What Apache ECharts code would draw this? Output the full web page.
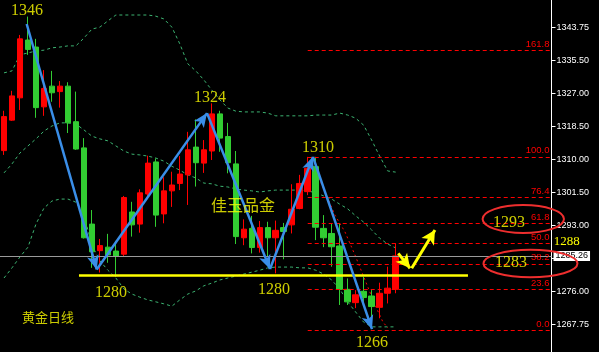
<!DOCTYPE html>
<html><head><meta charset="utf-8">
<script src="https://cdn.jsdelivr.net/npm/echarts@6/dist/echarts.min.js"></script>
<style>html,body{margin:0;padding:0;background:#000;}#c{width:599px;height:352px;}</style>
</head><body><div id="c"></div>
<script>
// ---- data ----
const slotCount = 69;
const categories = Array.from({length: slotCount}, (_, i) => String(i + 1));
const opens  = [1312.2,1320.0,1325.7,1340.5,1338.7,1323.4,1328.7,1327.3,1328.7,1319.6,1312.9,1293.4,1286.6,1287.5,1286.5,1285.7,1296.5,1293.4,1301.1,1309.3,1296.0,1301.9,1303.8,1306.0,1313.1,1309.0,1312.1,1321.6,1315.8,1308.8,1289.9,1292.3,1287.4,1292.5,1289.9,1292.5,1293.2,1297.4,1301.7,1308.1,1292.3,1291.0,1287.8,1276.7,1273.3,1276.2,1275.0,1272.1,1275.7,1276.7];
const closes = [1320.9,1326.2,1340.8,1338.1,1323.2,1328.1,1327.0,1328.7,1319.3,1312.6,1289.9,1286.3,1287.9,1285.5,1285.1,1300.2,1293.2,1301.4,1309.0,1295.7,1301.9,1303.4,1306.2,1312.4,1309.1,1312.4,1321.6,1315.4,1309.1,1290.2,1292.1,1287.4,1292.5,1289.9,1291.8,1291.5,1297.2,1303.8,1307.7,1292.6,1289.9,1287.6,1276.7,1273.5,1275.3,1274.6,1272.3,1275.7,1277.0,1285.26];
const lows   = [1311.1,1319.8,1322.6,1336.7,1320.6,1321.1,1324.7,1323.2,1316.7,1312.4,1289.7,1282.2,1281.0,1283.5,1279.9,1285.1,1290.2,1291.2,1300.4,1292.7,1293.6,1297.8,1302.1,1298.3,1303.0,1306.5,1309.8,1311.9,1306.4,1288.3,1288.0,1285.9,1286.1,1285.2,1280.8,1284.4,1291.0,1297.2,1300.8,1289.3,1287.5,1282.5,1272.7,1272.7,1271.9,1273.1,1267.1,1269.3,1273.1,1275.7];
const highs  = [1322.4,1327.5,1341.8,1346.5,1340.8,1332.8,1332.6,1330.0,1329.7,1327.3,1315.4,1297.0,1289.6,1290.9,1289.1,1300.6,1299.1,1302.3,1310.9,1310.2,1305.4,1306.8,1310.8,1317.0,1320.2,1314.9,1324.3,1322.4,1319.3,1312.1,1294.6,1295.5,1294.2,1294.0,1294.3,1293.7,1303.6,1306.0,1310.6,1310.6,1295.7,1293.6,1293.6,1279.5,1276.5,1279.9,1276.5,1278.4,1282.5,1288.5];
const bandUpper  = [1332.1,1332.6,1336.7,1337.2,1337.7,1337.9,1338.5,1338.7,1339.0,1339.0,1341.0,1343.3,1343.8,1345.4,1346.9,1346.9,1346.9,1346.9,1346.9,1346.6,1345.9,1343.8,1339.5,1334.4,1332.6,1330.3,1327.7,1325.2,1323.1,1322.3,1322.1,1322.1,1322.1,1321.8,1321.1,1321.1,1321.1,1321.1,1321.1,1321.3,1321.3,1321.3,1321.8,1321.3,1320.5,1318.7,1314.9,1310.8,1307.0,1306.7];
const bandMiddle = [1306.5,1308.8,1311.6,1313.4,1315.2,1317.2,1318.5,1319.3,1319.3,1319.0,1317.5,1315.9,1315.2,1314.7,1313.4,1312.1,1311.3,1311.1,1310.8,1310.3,1309.5,1308.2,1307.2,1306.0,1305.2,1303.9,1303.7,1303.1,1302.9,1302.4,1302.1,1301.9,1301.6,1301.9,1302.1,1302.1,1302.1,1302.1,1301.9,1301.4,1300.6,1299.8,1298.5,1297.3,1295.5,1293.9,1291.9,1289.8,1288.3,1287.3];
const bandLower  = [1279.6,1282.2,1285.0,1287.5,1293.4,1297.5,1299.3,1299.8,1299.8,1299.0,1295.7,1288.0,1284.0,1281.6,1279.6,1276.8,1275.5,1274.7,1274.0,1273.5,1273.0,1272.4,1274.0,1275.5,1276.3,1277.6,1278.3,1279.1,1279.6,1280.1,1280.6,1281.1,1281.6,1282.2,1282.4,1282.4,1282.4,1282.2,1282.2,1281.6,1280.6,1279.1,1276.8,1273.5,1270.9,1268.3,1267.1,1267.1,1267.1,1267.1];

const yMin = 1260.67, yMax = 1350.74;
const yTickValues = [1267.75,1276.194,1284.639,1293.083,1301.528,1309.972,1318.417,1326.861,1335.306,1343.75];
const yTickLabels = ['1267.75','1276.00','','1293.00','1301.50','1310.00','1318.50','1327.00','1335.50','1343.75'];
const lastPrice = 1285.26;

const fibLow = 1266.3, fibHigh = 1310.6, fibStartX = 38;
const fibLevels = [0.0, 23.6, 38.2, 50.0, 61.8, 76.4, 100.0, 161.8];

const zigzagX = [2.84, 11.60, 25.40, 33.28, 38.66, 46.04];
const zigzagP = [1344.6, 1281.8, 1321.8, 1281.9, 1310.6, 1266.5];
const yellowArrowX = [49.33, 50.80, 51.01, 53.92];
const yellowArrowP = [1285.9, 1282.1, 1282.1, 1291.9];
const supportX = [9.38, 58.05], supportP = 1280.4;
const redCurveX = [38.28,39.79,41.41,42.66,43.91,45.17,46.42,47.42,48.04];
const redCurveP = [1309.8,1303.4,1295.7,1291.4,1285.5,1279.1,1272.7,1268.3,1266.8];

const noteTexts = ['1346','1324','1310','1280','1280','1266','1293','1283'];
const noteX     = [2.88, 25.77, 39.28, 13.39, 33.78, 46.04, 63.18, 63.43];
const noteP     = [1348.0, 1325.8, 1313.0, 1275.7, 1276.5, 1262.97, 1293.75, 1283.5];
const cjkTexts = ['佳玉品金','黄金日线'];
const cjkX = [29.9, 5.5], cjkP = [1298.3, 1269.6], cjkSize = [16, 13];
const ellipseX = [64.97, 65.87], ellipseP = [1294.7, 1283.3], ellipseRx = [40.7, 47], ellipseRy = [14, 13.7];
const sideNote = '1288', sideNoteX = 70.4, sideNoteP = 1289.0;

// ---- chart ----
const chart = echarts.init(document.getElementById('c'), null, {renderer: 'canvas'});
const candleData = opens.map((o, i) => [o, closes[i], lows[i], highs[i]]);
const bandStyle = {color: '#3cb371', width: 1, type: [3, 3]};
const mkBand = d => ({type: 'line', data: d, symbol: 'none', lineStyle: bandStyle, z: 1, silent: true});

const fibLines = fibLevels.map(l => {
  const p = fibLow + (fibHigh - fibLow) * l / 100;
  return [{coord: [fibStartX, p], label: {formatter: l.toFixed(1)}}, {coord: [slotCount - 0.5, p]}];
});
const zigzag = [];
for (let i = 0; i < zigzagX.length - 1; i++) {
  zigzag.push([{coord: [zigzagX[i], zigzagP[i]], symbol: 'none'},
               {coord: [zigzagX[i + 1], zigzagP[i + 1]], symbol: 'arrow', symbolSize: [9, 14]}]);
}
const yArrows = [
  [{coord: [yellowArrowX[0], yellowArrowP[0]], symbol: 'none'}, {coord: [yellowArrowX[1], yellowArrowP[1]], symbol: 'arrow', symbolSize: [11, 14]}],
  [{coord: [yellowArrowX[2], yellowArrowP[2]], symbol: 'none'}, {coord: [yellowArrowX[3], yellowArrowP[3]], symbol: 'arrow', symbolSize: [11, 14]}]
];

const notes = noteTexts.map((t, i) => ({name: t, value: [noteX[i], noteP[i]],
  label: {fontFamily: 'Liberation Serif', fontSize: 16}}))
  .concat(cjkTexts.map((t, i) => ({name: t, value: [cjkX[i], cjkP[i]],
  label: {fontFamily: 'Noto Sans CJK SC', fontSize: cjkSize[i]}})));

chart.setOption({
  backgroundColor: '#000',
  animation: false,
  grid: {left: 0, right: 47.5, top: 0, bottom: 0},
  xAxis: [
    {type: 'category', data: categories, boundaryGap: true, show: false},
    {type: 'value', min: -0.5, max: slotCount - 0.5, show: false}
  ],
  yAxis: {
    type: 'value', position: 'right', min: yMin, max: yMax, scale: true,
    splitLine: {show: false},
    axisLine: {show: true, onZero: false, lineStyle: {color: '#ffffff', width: 1}},
    axisTick: {show: false},
    axisLabel: {show: true, margin: 5, color: '#ffffff', fontFamily: 'Liberation Sans', fontSize: 9,
      customValues: yTickValues,
      formatter: v => { let k = 0, d = 1e9; yTickValues.forEach((t, i) => { if (Math.abs(t - v) < d) { d = Math.abs(t - v); k = i; } }); return yTickLabels[k]; }}
  },
  series: [
    mkBand(bandUpper), mkBand(bandMiddle), mkBand(bandLower),
    {type: 'line', xAxisIndex: 1, data: [], silent: true, z: 2,
     markLine: {silent: true, symbol: 'none', animation: false,
       lineStyle: {color: '#ff0000', width: 1, type: [4, 3]},
       label: {show: true, position: 'insideEndTop', color: '#ff0000', fontFamily: 'Liberation Sans', fontSize: 9.5, distance: [2, 1]},
       data: fibLines}},
    {type: 'line', xAxisIndex: 1, data: redCurveX.map((x, i) => [x, redCurveP[i]]), symbol: 'none', silent: true, z: 2,
     lineStyle: {color: '#ff0000', width: 1, type: [2, 3]}},
    {type: 'candlestick', data: candleData, barWidth: 6, z: 3,
     itemStyle: {color: '#ff0000', color0: '#32cd32', borderColor: '#ff0000', borderColor0: '#32cd32', borderWidth: 1},
     markLine: {silent: true, symbol: 'none', animation: false,
       lineStyle: {color: '#9a9a9a', width: 1, type: 'solid'},
       label: {show: true, position: 'end', distance: 2, backgroundColor: '#ffffff', color: '#000000',
         fontFamily: 'Liberation Sans', fontSize: 9, padding: [1, 2, 0, 2], formatter: String(lastPrice)},
       data: [{yAxis: lastPrice}]}},
    {type: 'line', xAxisIndex: 1, data: [], silent: true, z: 6,
     markLine: {silent: true, animation: false,
       lineStyle: {color: '#ffff00', width: 2.5, type: 'solid'}, label: {show: false},
       data: [[{coord: [supportX[0], supportP], symbol: 'none'}, {coord: [supportX[1], supportP], symbol: 'none'}]]}},
    {type: 'line', xAxisIndex: 1, data: [], silent: true, z: 7,
     markLine: {silent: true, animation: false,
       lineStyle: {color: '#3a8ee8', width: 2.5, type: 'solid'}, label: {show: false},
       data: zigzag}},
    {type: 'line', xAxisIndex: 1, data: [], silent: true, z: 7,
     markLine: {silent: true, animation: false,
       lineStyle: {color: '#ffff00', width: 3, type: 'solid'}, label: {show: false},
       data: yArrows}},
    {type: 'scatter', xAxisIndex: 1, data: notes, symbolSize: 0, silent: true, z: 8,
     label: {show: true, position: 'inside', color: '#ffff00', formatter: p => p.name}}
  ]
});

const gfx = [];
// y-axis tick marks on the right side of the axis line
const axisX = chart.convertToPixel({xAxisIndex: 1}, slotCount - 0.5);
yTickValues.forEach(t => {
  const y = Math.round(chart.convertToPixel({yAxisIndex: 0}, t)) + 0.5;
  gfx.push({type: 'line', shape: {x1: axisX, y1: y, x2: axisX + 4, y2: y}, style: {stroke: '#ffffff', lineWidth: 1}, z: 100, silent: true});
});
ellipseX.forEach((x, i) => {
  const c = chart.convertToPixel({xAxisIndex: 1, yAxisIndex: 0}, [x, ellipseP[i]]);
  gfx.push({type: 'ellipse', shape: {cx: c[0], cy: c[1], rx: ellipseRx[i], ry: ellipseRy[i]},
    style: {fill: null, stroke: '#ee2e2e', lineWidth: 2}, z: 100, silent: true});
});
const sp = chart.convertToPixel({xAxisIndex: 1, yAxisIndex: 0}, [sideNoteX, sideNoteP]);
gfx.push({type: 'text', x: sp[0], y: sp[1], style: {text: sideNote, fill: '#ffff00', font: '13px "Liberation Serif"', align: 'center', verticalAlign: 'middle'}, z: 100, silent: true});
chart.setOption({graphic: gfx});
</script></body></html>
